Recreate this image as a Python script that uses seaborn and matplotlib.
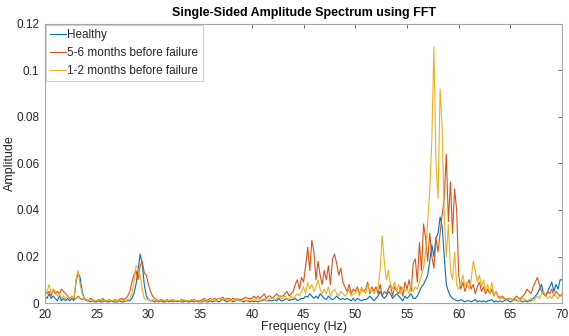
import numpy as np
import pandas as pd
import matplotlib
matplotlib.use("Agg")
import matplotlib.pyplot as plt
import seaborn as sns
from matplotlib.ticker import FuncFormatter

# Frequency grid (Hz), 0.2 Hz steps from 20 to 70
freq = [round(20 + 0.2 * i, 1) for i in range(251)]

# Amplitudes in units of 1e-3, five values per Hz
healthy_milli = [
    3, 2, 4, 2, 3,   2, 1, 3, 1, 2,   1, 2, 1, 2, 1,   9, 13, 11, 5, 2,
    1, 1, 0.5, 1, 0.5,   0.5, 1, 0.5, 0.5, 1,   0.5, 0.5, 1, 0.5, 0.5,   0.5, 1, 0.5, 0.5, 1,
    1, 1, 2, 4, 8,   14, 21, 17, 8, 3,   1.5, 1, 1, 0.5, 1,   0.5, 1, 0.5, 0.5, 1,
    0.5, 1, 0.5, 1, 0.5,   1, 0.5, 0.5, 1, 0.5,   0.5, 1, 0.5, 1, 0.5,   0.5, 0.5, 1, 0.5, 0.5,
    1, 0.5, 1, 1, 0.5,   1, 1.5, 1, 0.5, 1,   1, 0.5, 1, 1.5, 1,   1, 0.5, 1, 1, 0.5,
    1, 0.5, 1, 0.5, 1,   1, 1.5, 1, 1, 1,   1, 1.5, 1, 2, 1,   1, 1.5, 2, 1, 1.5,
    1.5, 2, 1, 1.5, 2,   2, 3, 2.5, 4, 3,   2, 3, 2, 4, 3,   2, 1.5, 3, 2, 1.5,
    2, 3, 2, 1.5, 2,   1.5, 2, 1.5, 1, 2,   1, 2, 1.5, 1, 1.5,   1.5, 2, 3, 2, 1,
    2, 3, 5, 3, 2,   3, 5, 4, 2, 3,   4, 3, 2, 1, 3,   2, 3, 4, 2, 2,
    3, 5, 7, 8, 10,   12, 18, 25, 20, 28,   30, 37, 33, 20, 8,   5, 3, 2, 1.5, 1,
    1, 1.5, 1, 0.5, 1,   1, 0.5, 1, 1.5, 0.5,   1, 0.5, 1, 0.5, 1,   1, 1.5, 0.5, 1, 0.5,
    1, 0.5, 1, 1.5, 1,   0.5, 1, 1.5, 1, 1,   1, 0.5, 1, 0.5, 1,   1, 2, 3, 4, 6,
    8, 4, 3, 5, 7,   9, 5, 8, 6, 10,   10,
]

months56_milli = [
    6, 4, 5, 3, 6,   4, 5, 4, 6, 5,   4, 3, 2, 3, 2,   2, 3, 2, 1.5, 2,
    1.5, 1, 2, 1.5, 1,   1, 1.5, 1, 2, 1,   1, 1.5, 1, 1, 1.5,   1, 1.5, 2, 1.5, 2,
    3, 5, 9, 12, 14,   10, 16, 18, 13, 12,   8, 5, 3, 2, 1.5,   1, 1.5, 1, 1, 1.5,
    1, 1, 1.5, 1, 1,   1, 1.5, 1, 1, 1,   1, 1, 1.5, 1, 1,   1, 1.5, 2, 1, 1.5,
    2, 1.5, 2, 1.5, 2,   2, 2.5, 1.5, 2, 2,   1.5, 2, 1.5, 2, 1.5,   1.5, 2, 2.5, 2, 2,
    2, 3, 2, 3, 2,   3, 4, 2, 3, 3,   2, 3, 4, 3, 3,   3, 4, 5, 3, 4,
    5, 8, 10, 6, 11,   9, 16, 24, 14, 27,   22, 10, 18, 12, 8,   14, 10, 16, 8, 19,
    21, 17, 12, 15, 9,   7, 5, 8, 4, 6,   5, 7, 4, 6, 5,   6, 9, 4, 7, 5,
    7, 4, 8, 3, 5,   4, 6, 8, 3, 7,   5, 4, 7, 3, 9,   6, 10, 5, 17, 19,
    9, 26, 14, 34, 28,   18, 30, 20, 15, 28,   22, 30, 38, 45, 64,   35, 52, 30, 49, 40,
    12, 6, 9, 5, 8,   10, 6, 8, 4, 7,   9, 5, 7, 4, 6,   4, 6, 3, 5, 3,
    2, 3, 2, 1.5, 2,   2, 1.5, 2, 3, 2,   2, 3, 4, 6, 5,   4, 7, 9, 11, 8,
    5, 4, 3, 5, 4,   6, 3, 5, 4, 3,   4,
]

months12_milli = [
    3, 5, 8, 4, 6,   5, 3, 4, 2, 3,   2, 3, 2, 3, 2,   10, 14, 8, 4, 2,
    1.5, 1, 1.5, 1, 1,   1, 1, 1.5, 1, 1,   1, 1.5, 1, 1, 1,   1, 1, 1.5, 1, 1,
    1.5, 2, 4, 9, 16,   15, 12, 6, 2, 1.5,   1.5, 1, 1.5, 1, 1,   1, 1, 1.5, 1, 1,
    1, 1.5, 1, 1, 1,   1, 1, 1.5, 1, 1,   1, 1.5, 1, 1, 1,   0.5, 1, 1, 0.5, 1,
    1, 1.5, 1, 1, 2,   1.5, 1, 2, 1, 1.5,   1, 1.5, 1, 2, 1,   1, 1.5, 1, 1, 1.5,
    1, 1.5, 1, 2, 1,   1.5, 2, 1, 1.5, 2,   2, 1.5, 2, 3, 2,   2, 3, 2, 1.5, 3,
    2, 3, 4, 3, 5,   7, 4, 9, 6, 8,   5, 7, 10, 6, 4,   6, 4, 7, 3, 5,
    6, 4, 3, 5, 4,   3, 4, 6, 3, 4,   4, 6, 3, 7, 5,   4, 8, 5, 6, 4,
    5, 7, 14, 29, 18,   10, 14, 8, 6, 9,   5, 8, 4, 7, 5,   6, 4, 8, 5, 7,
    6, 9, 12, 15, 22,   35, 48, 70, 110, 60,   45, 92, 75, 38, 20,   34, 14, 10, 22, 8,
    6, 8, 12, 7, 9,   6, 10, 18, 14, 9,   12, 7, 10, 5, 8,   4, 9, 3, 5, 2,
    3, 2, 1.5, 2, 1.5,   2, 1.5, 1, 1.5, 1,   1.5, 2, 1.5, 1, 1.5,   2, 1, 2, 3, 2,
    4, 5, 3, 2, 3,   2, 4, 3, 2, 3,   3,
]

series_names = ["Healthy", "5-6 months before failure", "1-2 months before failure"]
series_colors = ["#0072BD", "#D95319", "#EDB120"]

frames = []
for name, vals in zip(series_names, [healthy_milli, months56_milli, months12_milli]):
    frames.append(pd.DataFrame({
        "Frequency (Hz)": freq,
        "Amplitude": np.array(vals, dtype=float) / 1000.0,
        "Series": name,
    }))
df = pd.concat(frames, ignore_index=True)

sns.set_style("white")
plt.rcParams["font.family"] = ["Liberation Sans", "DejaVu Sans"]

fig = plt.figure(figsize=(5.69, 3.36), dpi=100)
ax = fig.add_axes([0.079, 0.098, 0.909, 0.831])

sns.lineplot(data=df, x="Frequency (Hz)", y="Amplitude", hue="Series",
             hue_order=series_names, palette=series_colors, linewidth=0.8,
             estimator=None, sort=True, ax=ax)

ax.set_xlim(20, 70)
ax.set_ylim(0, 0.12)
ax.set_xticks(np.arange(20, 71, 5))
ax.set_yticks([0, 0.02, 0.04, 0.06, 0.08, 0.1, 0.12])
ax.yaxis.set_major_formatter(FuncFormatter(lambda v, p: "0" if v == 0 else f"{v:g}"))

spine_col = "#a6a6a6"
for s in ax.spines.values():
    s.set_visible(True)
    s.set_color(spine_col)
    s.set_linewidth(0.8)
ax.tick_params(axis="both", direction="in", length=3, width=0.6, color="#555555",
               labelsize=8.5, labelcolor="#262626", top=True, right=True, pad=4)

ax.set_title("Single-Sided Amplitude Spectrum using FFT", fontsize=9,
             fontweight="bold", color="black", pad=6)
ax.set_xlabel("Frequency (Hz)", fontsize=9, color="#262626")
ax.xaxis.set_label_coords(0.5, -0.064)
ax.set_ylabel("Amplitude", fontsize=9, color="#262626")
ax.yaxis.set_label_coords(-0.057, 0.5)

sns.move_legend(ax, "upper left", title=None, frameon=True, fontsize=8.5,
                borderaxespad=0.1, handlelength=1.3, handletextpad=0.15,
                labelspacing=0.5, borderpad=0.35, fancybox=False,
                edgecolor="#c8c8c8", framealpha=1)
leg = ax.get_legend()
leg.get_frame().set_linewidth(0.6)
for t in leg.get_texts():
    t.set_color("#262626")

fig.savefig("out.png", dpi=100)
